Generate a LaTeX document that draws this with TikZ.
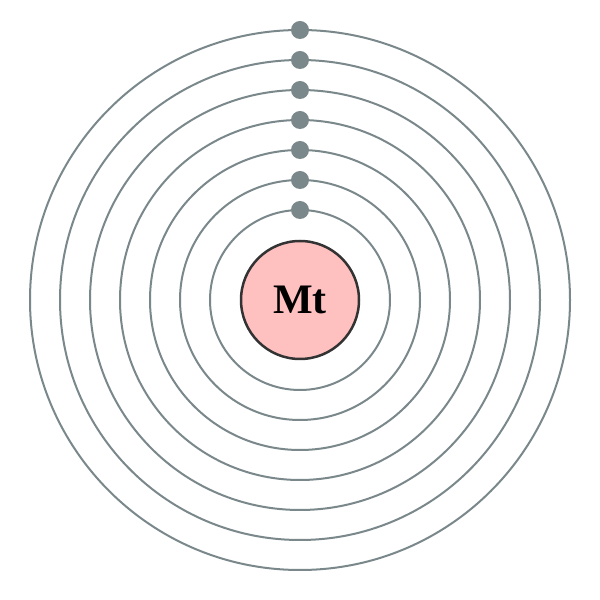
\documentclass[tikz,border=0pt]{standalone}
\usepackage{fontspec}
\setmainfont{Liberation Serif}
\definecolor{shellgray}{RGB}{122,136,139}
\definecolor{nucpink}{RGB}{255,192,192}
\definecolor{nucedge}{RGB}{51,51,51}
\begin{document}
\begin{tikzpicture}[x=1pt,y=1pt,line join = round, line cap = round]
			\useasboundingbox (0,0) rectangle (600,600);
			\tikzset{shell/.style={draw=shellgray,line width=2pt},
				electron/.style={circle,fill=shellgray,inner sep=0pt,minimum size=18pt}};
			\coordinate (c) at (300,300);
			\foreach \i in {1,...,7}\draw[shell] (c) circle ({60+30*\i});
			\node[circle,draw=nucedge,fill=nucpink,line width=2.5pt,inner sep=0pt,minimum size=118pt,font=\fontsize{42}{48}\selectfont\bfseries] (nucleus) at (c) {Mt};
			\foreach \i in {1,...,7}\node[electron] (e\i) at (300,{300+60+30*\i}) {};
		\end{tikzpicture}
\end{document}
